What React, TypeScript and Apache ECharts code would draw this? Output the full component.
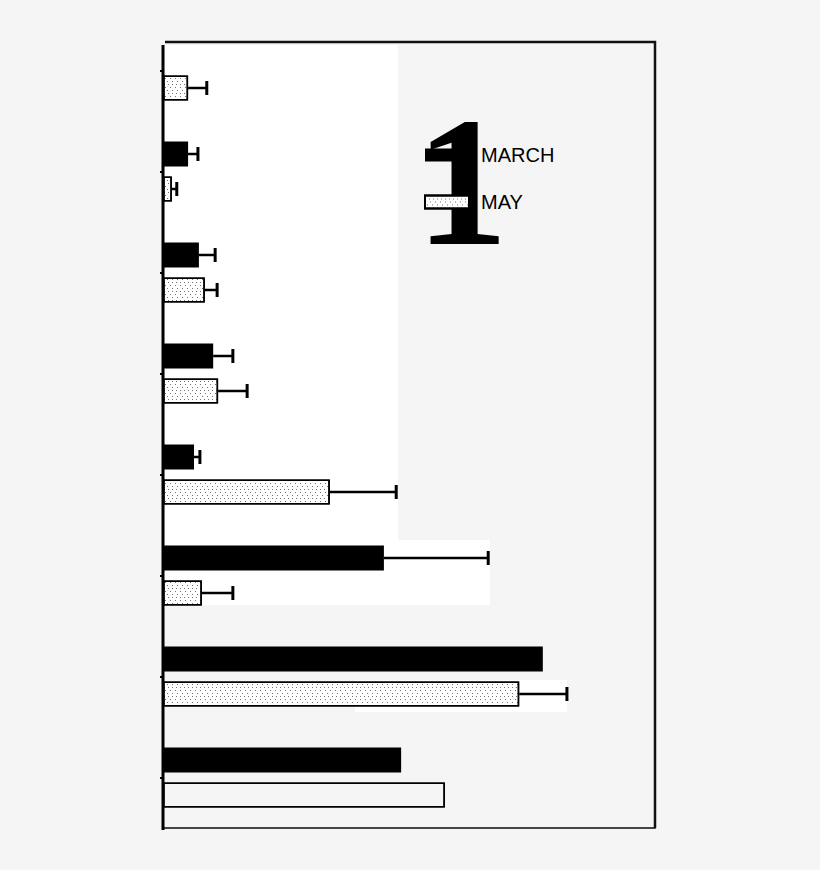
import React, { useEffect, useRef } from 'react';
import * as echarts from 'echarts';

// eight sites, top to bottom; no labels are printed in the original
const categories = ['1', '2', '3', '4', '5', '6', '7', '8'];
const marchValues = [0, 5.1, 7.3, 10.2, 6.3, 44.9, 77.2, 48.4];
const marchErrors = [0, 2.0, 3.3, 4.0, 1.2, 21.2, 0, 0];
const mayValues = [5.1, 1.8, 8.5, 11.2, 33.9, 7.9, 72.4, 57.3];
const mayErrors = [3.8, 1.0, 2.5, 5.9, 13.5, 6.3, 9.7, 0];

const stipple = {
  symbol: 'rect',
  symbolSize: 1,
  color: 'rgba(0,0,0,0.55)',
  dashArrayX: [[1, 4], [0, 2, 1, 2], [1, 3]],
  dashArrayY: [1, 2],
};

export default function App() {
  const chartRef = useRef<HTMLDivElement>(null);

  useEffect(() => {
    if (!chartRef.current) return;
    const myChart = echarts.init(chartRef.current, null, { renderer: 'svg' });

    const errorData = (vals: number[], errs: number[]) =>
      categories
        .map((c, i) => [i, vals[i], vals[i] + errs[i]])
        .filter((d) => d[2] > d[1]);

    const errorSeries = (name: string, vals: number[], errs: number[], dy: number) => ({
      type: 'custom',
      name: name + ' error',
      data: errorData(vals, errs),
      z: 3,
      silent: true,
      encode: { x: [1, 2], y: 0 },
      renderItem: (params: any, api: any) => {
        const cat = api.value(0);
        const start = api.coord([api.value(1), cat]);
        const end = api.coord([api.value(2), cat]);
        const y = start[1] + dy;
        return {
          type: 'group',
          children: [
            {
              type: 'line',
              shape: { x1: start[0], y1: y, x2: end[0], y2: y },
              style: { stroke: '#000', lineWidth: 2.5 },
            },
            {
              type: 'line',
              shape: { x1: end[0], y1: y - 7, x2: end[0], y2: y + 7 },
              style: { stroke: '#000', lineWidth: 3 },
            },
          ],
        };
      },
    });

    const option = {
      animation: false,
      backgroundColor: '#f5f5f5',
      grid: { left: 163, right: 165, top: 20, bottom: 42 },
      legend: {
        orient: 'vertical',
        left: 419,
        top: 140,
        icon: 'rect',
        itemWidth: 44,
        itemHeight: 13,
        itemGap: 27,
        selectedMode: false,
        data: ['MARCH', 'MAY'],
        textStyle: {
          color: '#000',
          fontSize: 20,
          lineHeight: 20,
          fontFamily: 'Liberation Sans',
          padding: [0, 0, 0, 7],
        },
      },
      xAxis: {
        type: 'value',
        min: 0,
        max: 100,
        axisLine: { show: true, lineStyle: { color: '#444', width: 2 } },
        axisTick: { show: false },
        axisLabel: { show: false },
        splitLine: { show: false },
      },
      yAxis: {
        type: 'category',
        data: categories,
        inverse: true,
        axisLine: { show: false },
        axisTick: { show: true, alignWithLabel: true, length: 3, lineStyle: { color: '#000', width: 2 } },
        axisLabel: { show: false },
      },
      graphic: [
        // paper patches of the scan
        { type: 'rect', z: -5, shape: { x: 165, y: 45, width: 233, height: 495 }, style: { fill: '#fff' } },
        { type: 'rect', z: -5, shape: { x: 163, y: 540, width: 327, height: 65 }, style: { fill: '#fff' } },
        { type: 'rect', z: -5, shape: { x: 355, y: 680, width: 212, height: 32 }, style: { fill: '#fff' } },
        {
          type: 'polyline',
          z: 5,
          shape: { points: [[165, 42], [655, 42], [655, 828]] },
          style: { stroke: '#111', lineWidth: 2.5, fill: 'none' },
        },
        {
          type: 'line',
          z: 5,
          shape: { x1: 163, y1: 45, x2: 163, y2: 830 },
          style: { stroke: '#000', lineWidth: 3 },
        },
        {
          type: 'text',
          z: 0,
          style: {
            text: '1',
            x: 462,
            y: 181,
            align: 'center',
            verticalAlign: 'middle',
            fontSize: 185,
            fontWeight: 'bold',
            fontFamily: 'Liberation Serif',
            fill: '#000',
          },
        },
      ],
      series: [
        {
          name: 'MARCH',
          type: 'bar',
          data: marchValues,
          barWidth: 25,
          barGap: '40%',
          itemStyle: { color: '#000' },
        },
        {
          name: 'MAY',
          type: 'bar',
          data: mayValues.map((v, i) =>
            i === mayValues.length - 1
              ? { value: v, itemStyle: { color: 'transparent', decal: { symbol: 'none' } } }
              : v
          ),
          barWidth: 25,
          itemStyle: { color: '#fff', borderColor: '#000', borderWidth: 1.5, decal: stipple },
        },
        errorSeries('MARCH', marchValues, marchErrors, -17.5),
        errorSeries('MAY', mayValues, mayErrors, 17.5),
      ],
    };

    myChart.setOption(option as any);
    return () => myChart.dispose();
  }, []);

  return (
    <div
      ref={chartRef}
      style={{ position: 'fixed', left: 0, top: 0, width: 820, height: 870 }}
    />
  );
}
